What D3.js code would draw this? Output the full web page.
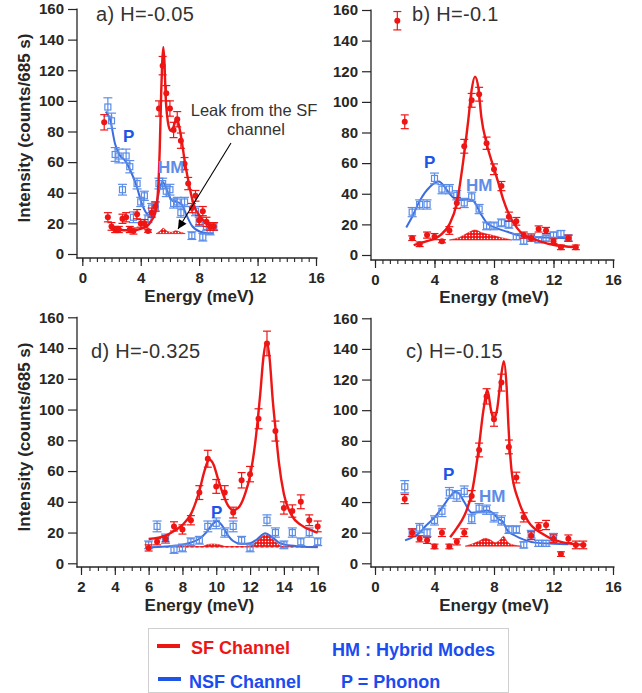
<!DOCTYPE html>
<html><head><meta charset="utf-8">
<script src="https://cdn.jsdelivr.net/npm/d3@7"></script>
<style>
body{margin:0;background:#fff}
svg{display:block}
text{font-family:"Liberation Sans",Arial,Helvetica,sans-serif}
</style></head><body>
<svg id="chart" width="642" height="693"></svg>
<script>
// ---------- tick labels ----------
const yTickVals = [0,20,40,60,80,100,120,140,160];
const xTicksTop = [0,4,8,12,16];
const xTicksD = [2,4,6,8,10,12,14,16];

// ---------- panel a) H=-0.05 ----------
const aSFx = [1.5,1.75,2.0,2.25,2.5,2.75,3.0,3.25,3.5,3.75,4.0,4.25,4.5,4.75,5.0,5.25,5.5,5.75,6.0,6.25,6.5,6.75,7.0,7.25,7.5,7.75,8.0,8.25,8.5,8.75,9.0];
const aSFy = [86,24,18,16,16,23,24,16,15,26,20,20,15,27,31,95,123,105,95,81,88,74,59,46,30,38,22,28,21,18,18];
const aSFe = [5,3,2.5,2,2,3,3,2,2,3,2.5,2.5,0.8,3,3,5,6,5,5,5,5,5,4,4,3,3.5,3,3,3,2.5,2.5];
const aNSFx = [1.75,2.0,2.25,2.5,2.75,3.0,3.25,3.5,3.75,4.0,4.25,4.5,4.75,5.0,5.25,5.5,5.75,6.0,6.25,6.5,6.75,7.0,7.5,7.75,8.0,8.25,8.5,8.75,9.0];
const aNSFy = [96,87,65,64,42,64,57,24,46,34,38,23,30,31,46,46,41,42,33,34,27,34,12,28,21,11,18,15,18];
const aNSFe = [6,5,4.5,4.5,3.5,4.5,4,3.5,3.5,3,3,2.5,3,3,3.5,3.5,3.5,3.5,3,3,3,3,2.5,3,3,2.5,2.5,2.5,2.5];
const aSFfit = [[1.9,17],[2.5,16],[3.0,15.5],[3.5,15.5],[4.0,16.5],[4.4,18],[4.75,22],[5.0,27],[5.2,44],[5.3,68],[5.4,105],[5.47,125],[5.55,135],[5.63,124],[5.71,102],[5.8,91],[5.9,84],[6.05,80.5],[6.2,82],[6.47,88.5],[6.7,80],[7.04,59],[7.34,44],[7.6,33],[8.07,24.5],[8.5,20],[9.1,17.4]];
const aNSFfit = [[1.6,93],[1.9,88],[2.24,72],[2.6,64],[2.93,61],[3.27,55],[3.73,44],[4.07,33],[4.4,26.5],[4.75,24.5],[5.05,31],[5.33,44],[5.5,47],[5.78,42],[6.13,35],[6.47,34],[6.8,32.5],[7.15,25],[7.5,18.5],[8.07,14.5],[8.64,13.5],[9.0,13.5]];
const aLeak = [[5.05,13.3],[5.3,14.8],[5.55,16.8],[5.8,14.8],[6.1,14.2],[6.4,15.2],[6.7,14.3],[7.05,13.3]];
const aLeakBase = 13.3;

// ---------- panel b) H=-0.1 ----------
const bSFx = [1.5,2.0,2.5,3.0,3.5,4.0,4.5,5.0,5.5,6.0,6.5,7.0,7.5,8.0,8.5,9.0,9.5,10.0,10.5,11.0,11.5,12.0,12.5,13.0,13.5];
const bSFy = [153,87,11,7,13,12,9,16,34,71,101,105,73,56,45,25,22,13,11,17,16,9,5,11,5];
const bSFe = [6,4.5,1.5,1.5,2,2,1,2.5,3.5,4.5,4.5,4.5,4,3.5,3,3,2.5,2,2,2,2,1.5,1.5,2,1.5];
const bNSFx = [2.5,3.0,3.5,4.0,4.5,5.0,5.5,6.0,6.5,7.0,7.5,8.0,8.5,9.0,9.5,10.0,10.5,11.0,11.5,12.0,12.5,13.0];
const bNSFy = [28,33,33,50,43,43,39,34,38,30,19,19,21,20,12,9,12,10,11,13,14,11];
const bNSFe = [3,3,3,3.5,3,3,3,3,3,3,2.5,2.5,2.5,2.5,2,2,2,2,2,2,2,2];
const bSFfit = [[2.6,6.5],[3.5,9],[4.4,13],[5.0,20],[5.5,34],[5.94,62],[6.27,88],[6.5,108],[6.72,116.5],[6.95,109],[7.15,90],[7.5,73],[7.95,58],[8.3,47],[8.63,36],[9.08,25],[9.57,17.4],[10.0,13],[10.5,11],[11.15,8.7],[12.05,6.5],[13.06,5.4],[13.6,5]];
const bNSFfit = [[2.1,18],[2.5,25],[3.04,36],[3.7,44.6],[4.28,48],[4.84,42.4],[5.2,38],[5.52,36],[5.9,36],[6.2,36.4],[6.64,35],[7.1,27],[7.54,20.7],[8.2,17.4],[8.9,15.2],[9.57,13],[10.25,12],[11.15,11.5],[12.05,11.3],[13.06,10.9]];
const bLeak = [[5.0,9.8],[5.7,11.6],[6.27,14.6],[6.72,16.3],[7.2,14.5],[7.84,13],[8.5,11.3],[9.2,9.8]];
const bLeakBase = 9.8;

// ---------- panel d) H=-0.325 ----------
const dSFx = [6.0,6.5,7.0,7.5,8.0,8.5,9.0,9.5,10.0,10.5,11.0,11.5,12.0,12.5,13.0,13.5,14.0,14.5,15.0,15.5,16.0];
const dSFy = [10,14,16,24,22,28,46,68,50,46,33,54,58,94,143,86,36,34,40,28,24];
const dSFe = [2,2,2,3,3,3,4.5,5.5,4.5,4.5,3.5,5,5,6.5,8,6.5,4,4,4.5,3.5,3.5];
const dNSFx = [6.0,6.5,7.0,7.5,8.0,8.5,9.0,9.5,10.0,10.5,11.0,11.5,12.0,13.0,13.5,14.0,14.5,15.0,15.5,16.0];
const dNSFy = [12,24,16,9,10,14,15,24,26,20,24,15,10,28,20,12,20,14,20,14];
const dNSFe = [2.5,3.5,3,2.5,2.5,2.5,2.5,3.5,3.5,3,3.5,2.5,2.5,3.5,3,2.5,3,2.5,3,2.5];
const dSFfit = [[6.0,15.8],[7.0,18],[7.5,21],[8.0,25],[8.5,32],[9.0,47],[9.3,60],[9.58,67.5],[9.85,64],[10.1,55],[10.4,45],[10.7,37.5],[11.0,34.5],[11.3,36],[11.7,45],[12.0,57],[12.3,78],[12.6,110],[12.8,135],[12.97,144],[13.15,134],[13.35,105],[13.5,88],[13.7,66],[14.0,45],[14.47,31],[15.0,25],[15.75,21],[16.0,20]];
const dNSFfit = [[6.0,10.5],[7.0,11],[8.0,12],[8.5,13.5],[9.0,16],[9.4,20],[9.75,25],[10.05,27.5],[10.35,24.5],[10.7,18],[11.0,14.5],[11.5,12.5],[12.0,13],[12.4,15.5],[12.9,19.5],[13.3,17],[13.7,13.5],[14.1,12],[15.0,11],[16.0,10.5]];
const dLeak = [[7.0,10.8],[9.1,10.8],[9.5,12.2],[9.8,12.6],[10.2,12],[10.6,10.8],[11.9,10.8],[12.3,13.5],[12.65,17],[12.95,18.5],[13.25,16.5],[13.55,13.5],[13.95,10.8],[16.0,10.8]];
const dLeakBase = 10.8;

// ---------- panel c) H=-0.15 ----------
const cSFx = [2.0,2.5,3.0,3.5,4.0,4.5,5.0,5.5,6.0,6.5,7.0,7.5,8.0,8.5,9.0,9.5,10.0,10.5,11.0,11.5,12.0,12.5,13.0,13.5,14.0];
const cSFy = [42,20,16,15,11,20,11,14,20,44,74,109,94,118,76,56,30,18,24,25,16,6,16,12,12];
const cSFe = [3,2.5,2,2,1.5,2.5,1.5,2,2.5,3.5,4.5,5,4.5,5.5,4.5,3.5,3,2.5,2.5,3,2.5,1.5,2.5,2.5,2.5];
const cNSFx = [2.0,2.5,3.0,3.5,4.0,4.5,5.0,5.5,6.0,6.5,7.0,7.5,8.0,8.5,9.0,9.5,10.0,10.5,11.0,11.5,12.0];
const cNSFy = [50,20,23,20,28,34,46,44,47,29,36,35,30,28,22,22,12,19,13,13,17];
const cNSFe = [4,2.5,3,2.5,3,3.5,3.5,3.5,3.5,3,3,3,3,3,2.5,2.5,2,2.5,2,2,2.5];
const cSFfit = [[5.05,17],[5.5,23],[6.0,31],[6.51,46],[6.96,74],[7.29,100],[7.56,113],[7.8,100],[7.97,94.5],[8.2,100],[8.45,120],[8.66,132],[8.85,115],[8.97,90],[9.2,59],[9.65,41],[10.32,27],[11.2,19.6],[12.0,15.5],[13.0,13],[14.2,12]];
const cNSFfit = [[2.02,15],[2.5,17],[3.0,20],[3.37,24],[4.0,30],[4.49,36],[5.0,43],[5.39,46.8],[5.7,45],[6.0,40],[6.51,33],[7.0,33.5],[7.52,34.5],[7.9,33],[8.3,29],[8.6,27],[8.87,22],[9.43,18],[10.0,15.5],[10.77,13.5],[12.0,12.8],[13.0,12.5]];
const cLeak = [[6.06,11.2],[6.5,12.5],[7.0,14.5],[7.41,16.3],[7.8,15],[8.08,13.5],[8.4,15.2],[8.64,17.6],[8.9,14],[9.3,12],[9.87,11.2]];
const cLeakBase = 11.2;

// ---------- colours ----------
const RED = "#ee1515";
const BLUE_PT = "#5b8de8";
const BLUE_FIT = "#3b6de0";
const BLUE_LBL = "#1e55e6";
const BLUE_HM = "#5d8de8";
const INK = "#262626";

const svg = d3.select("#chart");
const defs = svg.append("defs");
const pat = defs.append("pattern").attr("id","leakDots").attr("width",3).attr("height",3).attr("patternUnits","userSpaceOnUse");
pat.append("rect").attr("width",3).attr("height",3).attr("fill",RED);
pat.append("circle").attr("cx",1.5).attr("cy",1.5).attr("r",0.75).attr("fill","#fff");
defs.append("marker").attr("id","arrowHead").attr("viewBox","0 0 10 10").attr("refX",10).attr("refY",5)
  .attr("markerWidth",11).attr("markerHeight",9).attr("markerUnits","userSpaceOnUse").attr("orient","auto")
  .append("path").attr("d","M0,0 L10,5 L0,10 Z").attr("fill","#000");

const panels = [
  {title:"a) H=-0.05", tx:96, ty:20.5, xDom:[0,16], xRange:[82.3,316], yRange:[254,9], axisX:77, axisY:258, majors:xTicksTop,
   sf:[aSFx,aSFy,aSFe], nsf:[aNSFx,aNSFy,aNSFe], sfFit:aSFfit, nsfFit:aNSFfit, leak:aLeak, leakBase:aLeakBase,
   yTitleY:128, xTitleY:302, labels:[["P",123,142,BLUE_LBL],["HM",158,173,BLUE_HM]]},
  {title:"b) H=-0.1", tx:412, ty:20.5, xDom:[0,16], xRange:[375,613], yRange:[255,10], axisX:371, axisY:260, majors:xTicksTop,
   sf:[bSFx,bSFy,bSFe], nsf:[bNSFx,bNSFy,bNSFe], sfFit:bSFfit, nsfFit:bNSFfit, leak:bLeak, leakBase:bLeakBase,
   yTitleY:null, xTitleY:303, labels:[["P",424,168,BLUE_LBL],["HM",466,191,BLUE_HM]]},
  {title:"d) H=-0.325", tx:91, ty:358, xDom:[2,16], xRange:[81,317.7], yRange:[563.3,317.3], axisX:77, axisY:567, majors:xTicksD,
   sf:[dSFx,dSFy,dSFe], nsf:[dNSFx,dNSFy,dNSFe], sfFit:dSFfit, nsfFit:dNSFfit, leak:dLeak, leakBase:dLeakBase, dashedBase:true,
   yTitleY:437, xTitleY:611, labels:[["P",211,518,BLUE_LBL]]},
  {title:"c) H=-0.15", tx:406, ty:358, xDom:[0,16], xRange:[375,613], yRange:[563.3,318.3], axisX:371, axisY:567, majors:xTicksTop,
   sf:[cSFx,cSFy,cSFe], nsf:[cNSFx,cNSFy,cNSFe], sfFit:cSFfit, nsfFit:cNSFfit, leak:cLeak, leakBase:cLeakBase,
   yTitleY:null, xTitleY:611, labels:[["P",443,480,BLUE_LBL],["HM",479,502,BLUE_HM]]}
];

function drawPanel(p){
  const x = d3.scaleLinear().domain(p.xDom).range(p.xRange);
  const y = d3.scaleLinear().domain([0,160]).range(p.yRange);
  const g = svg.append("g");

  // y axis
  const yAx = g.append("g").attr("transform",`translate(${p.axisX},0)`)
    .call(d3.axisLeft(y).tickValues(yTickVals).tickSize(9).tickPadding(4).tickSizeOuter(0));
  yAx.select(".domain").remove();
  yAx.selectAll("line").attr("stroke",INK).attr("stroke-width",1.2);
  yAx.selectAll("text").attr("font-size",15).attr("font-weight","bold").attr("fill",INK)
     .attr("font-family","'Liberation Sans',Arial,sans-serif");
  g.append("line").attr("x1",p.axisX).attr("x2",p.axisX).attr("y1",y(160)-0.6).attr("y2",p.axisY+0.6)
    .attr("stroke",INK).attr("stroke-width",1.3);

  // x axis (minor + major)
  const minors = d3.range(p.xDom[0], p.xDom[1]+0.01, 0.5);
  const xMin = g.append("g").attr("transform",`translate(0,${p.axisY})`)
    .call(d3.axisBottom(x).tickValues(minors).tickSize(4).tickFormat("").tickSizeOuter(0));
  xMin.select(".domain").remove();
  xMin.selectAll("line").attr("stroke",INK).attr("stroke-width",1.1);
  const xMaj = g.append("g").attr("transform",`translate(0,${p.axisY})`)
    .call(d3.axisBottom(x).tickValues(p.majors).tickSize(8).tickPadding(6).tickSizeOuter(0));
  xMaj.select(".domain").remove();
  xMaj.selectAll("line").attr("stroke",INK).attr("stroke-width",1.2);
  xMaj.selectAll("text").attr("font-size",15).attr("font-weight","bold").attr("fill",INK)
     .attr("font-family","'Liberation Sans',Arial,sans-serif");
  g.append("line").attr("x1",p.axisX-0.6).attr("x2",x(p.xDom[1])+1.5).attr("y1",p.axisY).attr("y2",p.axisY)
    .attr("stroke",INK).attr("stroke-width",1.3);

  // axis titles
  g.append("text").attr("x",(p.xRange[0]+p.xRange[1])/2).attr("y",p.xTitleY).attr("text-anchor","middle")
    .attr("font-size",17).attr("font-weight","bold").attr("fill",INK).text("Energy (meV)");
  if(p.yTitleY!==null){
    g.append("text").attr("transform",`translate(30,${p.yTitleY}) rotate(-90)`).attr("text-anchor","middle")
      .attr("font-size",17).attr("font-weight","bold").attr("fill",INK).text("Intensity (counts/685 s)");
  }
  // panel title
  g.append("text").attr("x",p.tx).attr("y",p.ty).attr("font-size",20).attr("letter-spacing","0.3px")
    .attr("fill","#333").text(p.title);

  // leak area
  const leakArea = d3.area().x(d=>x(d[0])).y0(y(p.leakBase)).y1(d=>y(d[1])).curve(d3.curveMonotoneX);
  g.append("path").datum(p.leak).attr("d",leakArea).attr("fill","url(#leakDots)").attr("stroke",RED).attr("stroke-width",0.6);
  if(p.dashedBase){
    g.append("line").attr("x1",x(p.leak[0][0])).attr("x2",x(p.leak[p.leak.length-1][0]))
      .attr("y1",y(p.leakBase)).attr("y2",y(p.leakBase)).attr("stroke",RED).attr("stroke-width",1.5).attr("stroke-dasharray","3,2");
  }

  const line = d3.line().x(d=>x(d[0])).y(d=>y(d[1])).curve(d3.curveMonotoneX);
  // NSF fit
  g.append("path").datum(p.nsfFit).attr("d",line).attr("fill","none").attr("stroke",BLUE_FIT).attr("stroke-width",2);

  // NSF points
  const nsf = p.nsf[0].map((v,i)=>({x:v,y:p.nsf[1][i],e:p.nsf[2][i]}));
  const gn = g.append("g").attr("stroke",BLUE_PT).attr("stroke-width",1.2).attr("fill","none");
  nsf.forEach(d=>{
    const cx=x(d.x), cy=y(d.y), t=y(d.y+d.e), b=y(d.y-d.e);
    gn.append("line").attr("x1",cx).attr("x2",cx).attr("y1",t).attr("y2",b);
    gn.append("line").attr("x1",cx-4.5).attr("x2",cx+4.5).attr("y1",t).attr("y2",t);
    gn.append("line").attr("x1",cx-4.5).attr("x2",cx+4.5).attr("y1",b).attr("y2",b);
    gn.append("rect").attr("x",cx-3).attr("y",cy-3).attr("width",6).attr("height",6);
  });

  // SF fit
  g.append("path").datum(p.sfFit).attr("d",line).attr("fill","none").attr("stroke",RED).attr("stroke-width",2.4);

  // SF points
  const sf = p.sf[0].map((v,i)=>({x:v,y:p.sf[1][i],e:p.sf[2][i]}));
  const gs = g.append("g");
  sf.forEach(d=>{
    const cx=x(d.x), cy=y(d.y), t=y(d.y+d.e), b=y(d.y-d.e);
    const eb = gs.append("g").attr("stroke",RED).attr("stroke-width",1.2);
    eb.append("line").attr("x1",cx).attr("x2",cx).attr("y1",t).attr("y2",b);
    eb.append("line").attr("x1",cx-4).attr("x2",cx+4).attr("y1",t).attr("y2",t);
    eb.append("line").attr("x1",cx-4).attr("x2",cx+4).attr("y1",b).attr("y2",b);
    gs.append("circle").attr("cx",cx).attr("cy",cy).attr("r",3).attr("fill",RED);
  });

  // P / HM labels
  p.labels.forEach(l=>{
    g.append("text").attr("x",l[1]).attr("y",l[2]).attr("font-size",17).attr("font-weight","bold").attr("fill",l[3]).text(l[0]);
  });
}
panels.forEach(drawPanel);

// annotation (panel a)
svg.append("text").attr("x",254).attr("y",116).attr("text-anchor","middle").attr("font-size",16.5).attr("fill","#333").text("Leak from the SF");
svg.append("text").attr("x",256).attr("y",135).attr("text-anchor","middle").attr("font-size",16.5).attr("fill","#333").text("channel");
svg.append("line").attr("x1",231).attr("y1",143).attr("x2",178).attr("y2",229).attr("stroke","#000").attr("stroke-width",1.1)
  .attr("marker-end","url(#arrowHead)");

// legend
const lg = svg.append("g");
lg.append("rect").attr("x",148.5).attr("y",628.5).attr("width",360).attr("height",64).attr("fill","#fff").attr("stroke","#cfcfcf").attr("stroke-width",1);
lg.append("line").attr("x1",157).attr("x2",180).attr("y1",646).attr("y2",646).attr("stroke",RED).attr("stroke-width",4);
lg.append("line").attr("x1",158).attr("x2",181).attr("y1",679).attr("y2",679).attr("stroke","#1f55e6").attr("stroke-width",4);
lg.append("text").attr("x",191).attr("y",654).attr("font-size",18).attr("font-weight","bold").attr("fill",RED).text("SF Channel");
lg.append("text").attr("x",332).attr("y",656).attr("font-size",18).attr("font-weight","bold").attr("fill","#1a4cf0").text("HM : Hybrid Modes");
lg.append("text").attr("x",189).attr("y",688).attr("font-size",18).attr("font-weight","bold").attr("fill","#1a4cf0").text("NSF Channel");
lg.append("text").attr("x",341).attr("y",688).attr("font-size",18).attr("font-weight","bold").attr("fill","#1a4cf0").text("P = Phonon");
</script>
</body></html>
